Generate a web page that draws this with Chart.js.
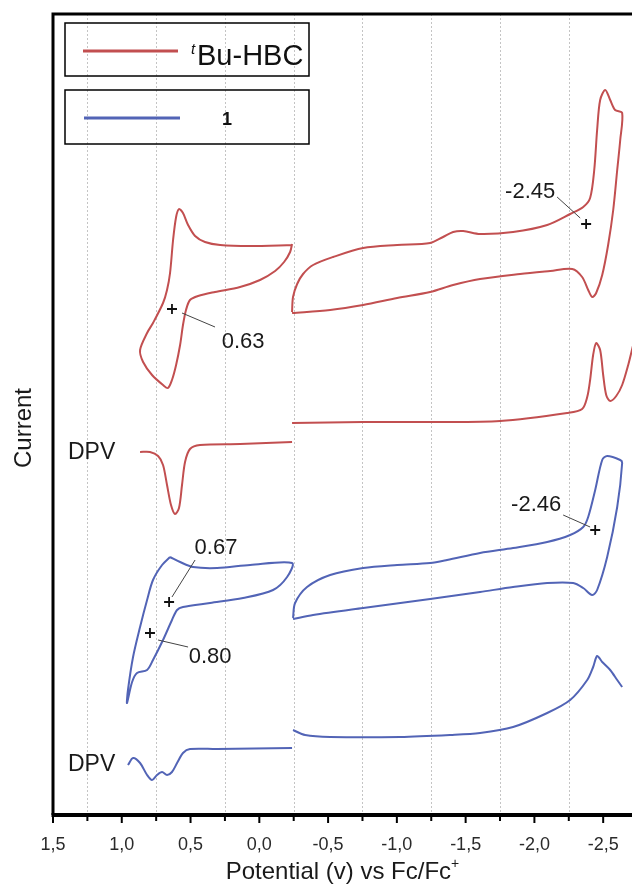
<!DOCTYPE html>
<html>
<head>
<meta charset="utf-8">
<script src="https://cdn.jsdelivr.net/npm/chart.js@4.4.0/dist/chart.umd.min.js"></script>
<style>
  html, body { margin: 0; padding: 0; background: #fff; overflow: hidden; }
  canvas { display: block; }
</style>
</head>
<body>
<canvas id="myChart" width="632" height="890"></canvas>
<script>
// potential in V vs Fc/Fc+, current in arbitrary units (traces stacked with offsets)

// tBu-HBC, CV oxidation window
var redCvOxE = [-0.238, -0.224, -0.180, -0.115, -0.005, 0.140, 0.322, 0.445, 0.504, 0.533, 0.555, 0.576, 0.605, 0.635, 0.664, 0.700, 0.780, 0.845, 0.867, 0.816, 0.773, 0.700, 0.671, 0.649, 0.627, 0.605, 0.584, 0.555, 0.518, 0.467, 0.395, 0.285, 0.067, -0.238];
var redCvOxI = [57.1, 56.3, 55.3, 54.4, 53.5, 52.8, 52.3, 51.9, 51.5, 50.5, 49.0, 47.0, 45.0, 43.5, 42.7, 43.0, 44.0, 45.3, 46.5, 48.2, 49.2, 51.2, 52.5, 54.2, 57.5, 59.8, 60.6, 60.2, 59.0, 57.9, 57.3, 57.0, 56.9, 57.0];

// tBu-HBC, CV reduction window
var redCvRedE = [-0.238, -0.245, -0.275, -0.318, -0.391, -0.536, -0.755, -1.002, -1.242, -1.336, -1.409, -1.482, -1.605, -1.845, -2.093, -2.260, -2.355, -2.405, -2.435, -2.456, -2.478, -2.515, -2.551, -2.587, -2.638, -2.624, -2.602, -2.573, -2.536, -2.493, -2.449, -2.420, -2.391, -2.347, -2.275, -2.115, -1.896, -1.605, -1.409, -1.242, -1.002, -0.755, -0.515, -0.238];
var redCvRedI = [50.3, 51.8, 53.1, 54.1, 55.0, 55.8, 56.7, 57.0, 57.2, 57.8, 58.3, 58.4, 58.1, 58.3, 59.0, 60.1, 60.8, 61.7, 64.5, 68.5, 71.5, 72.5, 71.5, 70.5, 70.2, 67.5, 64.5, 60.5, 57.0, 54.0, 52.2, 51.8, 52.5, 53.8, 54.6, 54.4, 54.1, 53.6, 53.0, 52.3, 51.7, 51.0, 50.5, 50.2];

// tBu-HBC, DPV
var redDpvOxE = [0.867, 0.795, 0.736, 0.700, 0.671, 0.642, 0.613, 0.584, 0.562, 0.540, 0.504, 0.431, 0.140, -0.238];
var redDpvOxI = [36.3, 36.3, 35.9, 35.0, 33.0, 31.0, 30.1, 30.7, 33.0, 35.3, 36.6, 37.0, 37.1, 37.3];
var redDpvRedE = [-0.238, -0.755, -1.256, -1.751, -2.238, -2.347, -2.384, -2.405, -2.427, -2.449, -2.478, -2.500, -2.522, -2.551, -2.595, -2.638, -2.682, -2.718];
var redDpvRedI = [39.2, 39.3, 39.3, 39.4, 40.2, 40.6, 41.8, 43.5, 46.0, 47.2, 46.5, 44.0, 42.0, 41.4, 41.9, 43.0, 45.0, 47.0];

// compound 1, CV oxidation window
var blueCvOxE = [0.649, 0.576, 0.482, 0.307, 0.067, -0.238, -0.202, -0.100, 0.118, 0.358, 0.555, 0.598, 0.635, 0.700, 0.773, 0.816, 0.889, 0.925, 0.962, 0.955, 0.918, 0.867, 0.816, 0.773, 0.707, 0.649];
var blueCvOxI = [25.8, 25.3, 24.8, 24.7, 25.0, 25.2, 23.8, 22.5, 21.7, 21.2, 20.8, 20.5, 19.5, 17.5, 15.5, 14.5, 14.2, 13.3, 11.2, 12.5, 15.8, 18.8, 21.5, 23.5, 25.0, 25.8];

// compound 1, CV reduction window
var blueCvRedE = [-0.245, -0.260, -0.347, -0.515, -0.755, -1.002, -1.242, -1.365, -1.605, -1.845, -2.093, -2.260, -2.355, -2.391, -2.442, -2.493, -2.529, -2.624, -2.638, -2.602, -2.529, -2.456, -2.420, -2.355, -2.282, -2.093, -1.845, -1.605, -1.242, -0.755, -0.391, -0.245];
var blueCvRedI = [19.7, 21.2, 22.8, 24.0, 24.7, 25.0, 25.2, 25.5, 26.2, 26.7, 27.3, 28.0, 28.8, 29.8, 32.5, 35.5, 35.9, 35.5, 35.2, 30.8, 25.8, 22.5, 22.0, 22.7, 23.2, 23.2, 22.8, 22.3, 21.6, 20.7, 20.0, 19.6];

// compound 1, DPV
var blueDpvOxE = [0.955, 0.918, 0.867, 0.816, 0.780, 0.744, 0.707, 0.671, 0.635, 0.598, 0.555, 0.504, 0.307, -0.238];
var blueDpvOxI = [5.0, 5.7, 5.2, 4.0, 3.5, 4.0, 4.3, 4.0, 4.3, 5.2, 6.2, 6.6, 6.6, 6.7];
var blueDpvRedE = [-0.245, -0.333, -0.515, -1.024, -1.387, -1.605, -1.845, -2.093, -2.260, -2.384, -2.427, -2.456, -2.493, -2.551, -2.602, -2.638];
var blueDpvRedI = [8.5, 8.0, 7.8, 7.8, 8.0, 8.2, 8.8, 10.2, 11.5, 13.5, 14.8, 15.9, 15.3, 14.5, 13.5, 12.8];

// half-wave potential markers
var markE = [0.635, -2.376, 0.656, 0.795, -2.442];
var markI = [50.6, 59.1, 21.3, 18.2, 28.5];

// annotation labels and leader lines
var annoText = ['0.63', '-2.45', '0.67', '0.80', '-2.46'];
var annoE = [0.118, -1.969, 0.315, 0.358, -2.013];
var annoI = [47.3, 62.3, 26.7, 15.8, 31.0];
var leadFromE = [0.562, -2.165, 0.467, 0.736, -2.209];
var leadFromI = [50.2, 61.8, 25.5, 17.5, 30.0];
var leadToE = [0.322, -2.333, 0.635, 0.518, -2.405];
var leadToI = [48.8, 59.7, 21.8, 16.8, 28.8];

var dpvLabelE = [1.391, 1.391];
var dpvLabelI = [36.2, 5.0];

var xTicks = [1.5, 1.0, 0.5, 0.0, -0.5, -1.0, -1.5, -2.0, -2.5];
var xMinor = [1.25, 0.75, 0.25, -0.25, -0.75, -1.25, -1.75, -2.25];

var RED = '#c24f50';
var BLUE = '#5264b6';
var FONT = "'Liberation Sans', Arial, sans-serif";
var PAGE_W = 632, PAGE_H = 890;

function pts(e, i) {
    return e.map(function(v, k) { return {x: v, y: i[k]}; });
}

function curve(e, i, color) {
    return {
        data: pts(e, i),
        showLine: true,
        borderColor: color,
        borderWidth: 2,
        pointRadius: 0,
        tension: 0.3,
        fill: false
    };
}

var decor = {
    id: 'decor',
    beforeDatasetsDraw: function(chart) {
        var ctx = chart.ctx, a = chart.chartArea, xs = chart.scales.x;
        ctx.save();
        ctx.strokeStyle = '#c4c4c4';
        ctx.lineWidth = 1;
        ctx.setLineDash([2, 2]);
        xMinor.forEach(function(v) {
            var px = Math.round(xs.getPixelForValue(v)) + 0.5;
            ctx.beginPath();
            ctx.moveTo(px, a.top);
            ctx.lineTo(px, a.bottom);
            ctx.stroke();
        });
        ctx.restore();
    },
    afterDraw: function(chart) {
        var ctx = chart.ctx, a = chart.chartArea;
        var xs = chart.scales.x, ys = chart.scales.y;
        ctx.save();

        // frame
        ctx.strokeStyle = '#000';
        ctx.lineWidth = 3;
        ctx.beginPath();
        ctx.moveTo(a.left, a.bottom);
        ctx.lineTo(a.left, a.top);
        ctx.lineTo(a.right, a.top);
        ctx.stroke();
        ctx.lineWidth = 4;
        ctx.beginPath();
        ctx.moveTo(a.left - 1.5, a.bottom);
        ctx.lineTo(a.right, a.bottom);
        ctx.stroke();

        // tick marks
        ctx.lineWidth = 2;
        xTicks.forEach(function(v) {
            var px = xs.getPixelForValue(v);
            ctx.beginPath();
            ctx.moveTo(px, a.bottom);
            ctx.lineTo(px, a.bottom + 8);
            ctx.stroke();
        });
        xMinor.forEach(function(v) {
            var px = xs.getPixelForValue(v);
            ctx.beginPath();
            ctx.moveTo(px, a.bottom);
            ctx.lineTo(px, a.bottom + 6);
            ctx.stroke();
        });

        // y title
        ctx.fillStyle = '#1a1a1a';
        ctx.font = '24px ' + FONT;
        ctx.textAlign = 'center';
        ctx.textBaseline = 'middle';
        ctx.save();
        ctx.translate(24, 428);
        ctx.rotate(-Math.PI / 2);
        ctx.fillText('Current', 0, 0);
        ctx.restore();

        // x title, centred on the visible part of the axis
        ctx.font = '24px ' + FONT;
        var tMain = 'Potential (v) vs Fc/Fc';
        var wMain = ctx.measureText(tMain).width;
        ctx.font = '14px ' + FONT;
        var wSup = ctx.measureText('+').width;
        var tx = (a.left + PAGE_W) / 2 - (wMain + wSup) / 2;
        ctx.textAlign = 'left';
        ctx.textBaseline = 'alphabetic';
        ctx.font = '24px ' + FONT;
        ctx.fillText(tMain, tx, 879);
        ctx.font = '14px ' + FONT;
        ctx.fillText('+', tx + wMain, 868);

        // DPV labels
        ctx.font = '23px ' + FONT;
        ctx.textAlign = 'left';
        ctx.textBaseline = 'middle';
        dpvLabelE.forEach(function(v, k) {
            ctx.fillText('DPV', xs.getPixelForValue(v), ys.getPixelForValue(dpvLabelI[k]));
        });

        // annotations
        ctx.font = '22px ' + FONT;
        ctx.textAlign = 'center';
        annoText.forEach(function(t, k) {
            ctx.fillText(t, xs.getPixelForValue(annoE[k]), ys.getPixelForValue(annoI[k]));
        });
        ctx.strokeStyle = '#444';
        ctx.lineWidth = 1;
        leadFromE.forEach(function(v, k) {
            ctx.beginPath();
            ctx.moveTo(xs.getPixelForValue(v), ys.getPixelForValue(leadFromI[k]));
            ctx.lineTo(xs.getPixelForValue(leadToE[k]), ys.getPixelForValue(leadToI[k]));
            ctx.stroke();
        });

        // legend boxes
        var lx = a.left + 12, lw = 244;
        ctx.strokeStyle = '#000';
        ctx.lineWidth = 1.5;
        ctx.strokeRect(lx, a.top + 9, lw, 53);
        ctx.strokeRect(lx, a.top + 76, lw, 54);
        ctx.lineWidth = 3;
        ctx.strokeStyle = RED;
        ctx.beginPath();
        ctx.moveTo(lx + 18, a.top + 37);
        ctx.lineTo(lx + 113, a.top + 37);
        ctx.stroke();
        ctx.strokeStyle = BLUE;
        ctx.beginPath();
        ctx.moveTo(lx + 19, a.top + 104);
        ctx.lineTo(lx + 115, a.top + 104);
        ctx.stroke();

        ctx.fillStyle = '#111';
        ctx.textAlign = 'left';
        ctx.textBaseline = 'alphabetic';
        ctx.font = 'italic 15px ' + FONT;
        ctx.fillText('t', lx + 126, a.top + 40);
        ctx.font = '29px ' + FONT;
        ctx.fillText('Bu-HBC', lx + 132, a.top + 51);
        ctx.font = 'bold 18px ' + FONT;
        ctx.fillText('1', lx + 157, a.top + 111);

        ctx.restore();
    }
};

function build(canvas) {
    return new Chart(canvas, {
        type: 'scatter',
        data: {
            datasets: [
                curve(redCvOxE, redCvOxI, RED),
                curve(redCvRedE, redCvRedI, RED),
                curve(redDpvOxE, redDpvOxI, RED),
                curve(redDpvRedE, redDpvRedI, RED),
                curve(blueCvOxE, blueCvOxI, BLUE),
                curve(blueCvRedE, blueCvRedI, BLUE),
                curve(blueDpvOxE, blueDpvOxI, BLUE),
                curve(blueDpvRedE, blueDpvRedI, BLUE),
                {
                    data: pts(markE, markI),
                    showLine: false,
                    pointStyle: 'cross',
                    pointRadius: 5,
                    borderWidth: 1.8,
                    borderColor: '#111'
                }
            ]
        },
        options: {
            responsive: false,
            animation: false,
            devicePixelRatio: 1,
            layout: { padding: { left: 0, right: 0, top: 14, bottom: 0 } },
            plugins: {
                legend: { display: false },
                tooltip: { enabled: false }
            },
            scales: {
                x: {
                    type: 'linear',
                    position: 'bottom',
                    reverse: true,
                    min: -2.711,
                    max: 1.5,
                    afterBuildTicks: function(axis) {
                        axis.ticks = xTicks.map(function(v) { return {value: v}; });
                    },
                    afterFit: function(axis) { axis.height = 75; },
                    grid: { display: false },
                    border: { display: false },
                    ticks: {
                        autoSkip: false,
                        maxRotation: 0,
                        padding: 11,
                        color: '#2a2a2a',
                        font: { size: 18 },
                        callback: function(v) { return v.toFixed(1).replace('.', ','); }
                    },
                    title: { display: false }
                },
                y: {
                    type: 'linear',
                    min: 0,
                    max: 80.1,
                    afterFit: function(axis) { axis.width = 53; },
                    grid: { display: false },
                    border: { display: false },
                    ticks: { display: false }
                }
            }
        },
        plugins: [decor]
    });
}

window.onload = function() {
    var canvas = document.getElementById('myChart');
    var myChart = build(canvas);
    // the plot area runs to the window's right edge; widen the canvas past it if layout keeps a margin
    for (var n = 0; n < 3; n++) {
        var gap = Math.round(PAGE_W - myChart.chartArea.right);
        if (gap === 0) break;
        var w = canvas.width + gap;
        myChart.destroy();
        canvas.width = w;
        canvas.height = PAGE_H;
        canvas.style.width = w + 'px';
        canvas.style.height = PAGE_H + 'px';
        myChart = build(canvas);
    }
};
</script>
</body>
</html>
